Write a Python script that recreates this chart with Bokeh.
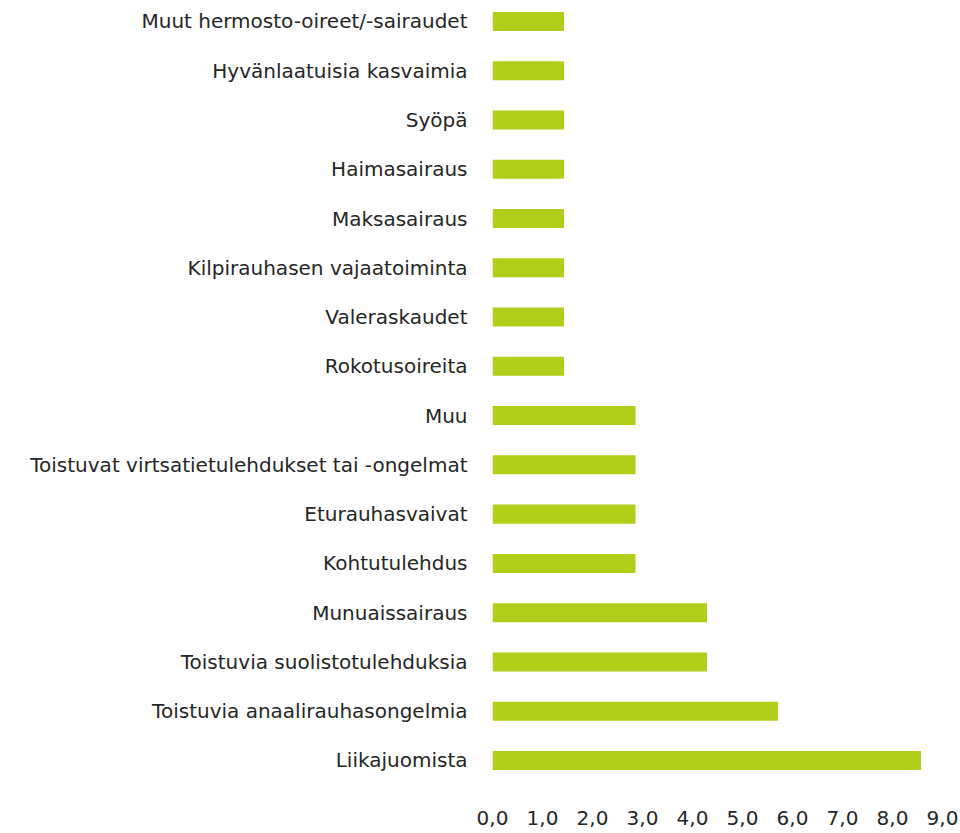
from bokeh.plotting import figure
from bokeh.models import Range1d, FixedTicker, ColumnDataSource
from bokeh.embed import file_html
from bokeh.resources import INLINE

categories = [
    "Liikajuomista",
    "Toistuvia anaalirauhasongelmia",
    "Toistuvia suolistotulehduksia",
    "Munuaissairaus",
    "Kohtutulehdus",
    "Eturauhasvaivat",
    "Toistuvat virtsatietulehdukset tai -ongelmat",
    "Muu",
    "Rokotusoireita",
    "Valeraskaudet",
    "Kilpirauhasen vajaatoiminta",
    "Maksasairaus",
    "Haimasairaus",
    "Syöpä",
    "Hyvänlaatuisia kasvaimia",
    "Muut hermosto-oireet/-sairaudet",
]
values = [8.57, 5.71, 4.29, 4.29, 2.86, 2.86, 2.86, 2.86,
          1.43, 1.43, 1.43, 1.43, 1.43, 1.43, 1.43, 1.43]
x_ticks = [0, 1, 2, 3, 4, 5, 6, 7, 8, 9]
x_tick_labels = ["0,0", "1,0", "2,0", "3,0", "4,0", "5,0", "6,0", "7,0", "8,0", "9,0"]

positions = list(range(len(categories)))
source = ColumnDataSource(dict(y=positions, v=values))

FONT = "DejaVu Sans"
TEXT = "#262626"

p = figure(width=960, height=833, output_backend="svg", toolbar_location=None,
           x_range=Range1d(0, 9), y_range=Range1d(-0.61, 15.426),
           min_border_left=492, min_border_right=18, min_border_top=0, min_border_bottom=43)

p.hbar(y="y", right="v", left=0, height=0.386, source=source,
       fill_color="#B0CE1A", line_color=None)

p.xgrid.visible = False
p.ygrid.visible = False
p.outline_line_color = None

for ax in (p.xaxis[0], p.yaxis[0]):
    ax.axis_line_color = None
    ax.major_tick_line_color = None
    ax.minor_tick_line_color = None
    ax.major_label_text_font = FONT
    ax.major_label_text_font_size = "20px"
    ax.major_label_text_color = TEXT

p.xaxis[0].ticker = FixedTicker(ticks=x_ticks)
p.xaxis[0].major_label_overrides = {t: l for t, l in zip(x_ticks, x_tick_labels)}
p.xaxis[0].major_label_standoff = 14

p.yaxis[0].ticker = FixedTicker(ticks=positions)
p.yaxis[0].major_label_overrides = {i: c for i, c in zip(positions, categories)}
p.yaxis[0].major_label_standoff = 19

open("out.html", "w").write(file_html(p, INLINE))
